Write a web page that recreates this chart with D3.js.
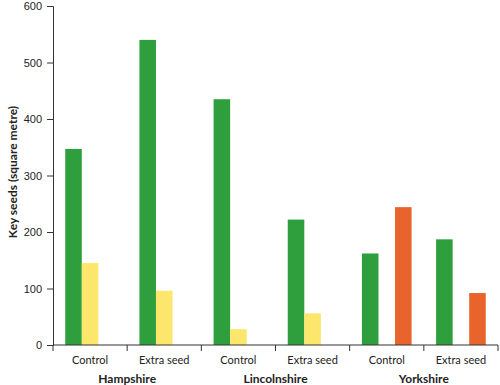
<!DOCTYPE html>
<html lang="en">
<head>
    <meta charset="UTF-8">
    <title>Key seeds</title>
    <script src="https://cdn.jsdelivr.net/npm/d3@7"></script>
    <style>
        body { margin: 0; background: #fff; }
        svg { font-family: Lato, "Open Sans", sans-serif; }
        .axis path, .axis line { stroke: #333; }
        .axis text { fill: #222; font-size: 11px; }
    </style>
</head>
<body>
    <svg id="chart" width="500" height="385"></svg>
    <script>
        // data
        const regions = ["Hampshire", "Lincolnshire", "Yorkshire"];
        const treatments = ["Control", "Extra seed"];
        const series = ["green", "yellow", "orange"];
        const greenVals = [347, 540, 435, 222, 162, 187];
        const yellowVals = [145, 96, 28, 56, null, null];
        const orangeVals = [null, null, null, null, 244, 92];
        const yTicks = [0, 100, 200, 300, 400, 500, 600];

        const colors = { green: "#2e9f3c", yellow: "#fde66c", orange: "#e8642c" };

        const svg = d3.select("#chart");
        const margin = { left: 53, right: 2, top: 6, bottom: 40 };
        const width = 500, height = 385;

        // one band per region/treatment pair
        const cats = [];
        regions.forEach(r => treatments.forEach(t => cats.push(r + "|" + t)));

        const x0 = d3.scaleBand().domain(cats)
            .range([margin.left, width - margin.right]);
        const x1 = d3.scaleBand().domain(series)
            .range([0, x0.bandwidth()])
            .paddingOuter(0.74);
        const y = d3.scaleLinear().domain([0, 600])
            .range([height - margin.bottom, margin.top]);

        const vals = { green: greenVals, yellow: yellowVals, orange: orangeVals };
        const rows = [];
        cats.forEach((c, i) => {
            series.forEach(s => {
                if (vals[s][i] != null) rows.push({ cat: c, s: s, v: vals[s][i] });
            });
        });

        svg.selectAll("rect.bar")
            .data(rows)
            .enter().append("rect")
            .attr("class", "bar")
            .attr("x", d => x0(d.cat) + x1(d.s))
            .attr("width", x1.bandwidth())
            .attr("y", d => y(d.v))
            .attr("height", d => y(0) - y(d.v))
            .attr("fill", d => colors[d.s]);

        // y axis
        svg.append("g")
            .attr("class", "axis")
            .attr("transform", `translate(${margin.left},0)`)
            .call(d3.axisLeft(y).tickValues(yTicks).tickSize(6).tickPadding(5));

        // x axis: ticks at band edges
        const edges = cats.map(c => x0(c)).concat([x0.range()[1]]);
        const xg = svg.append("g").attr("class", "axis");
        xg.append("line")
            .attr("x1", margin.left).attr("x2", width - margin.right)
            .attr("y1", y(0)).attr("y2", y(0));
        xg.selectAll("line.tick")
            .data(edges)
            .enter().append("line")
            .attr("class", "tick")
            .attr("x1", d => d).attr("x2", d => d)
            .attr("y1", y(0)).attr("y2", y(0) + 6);
        xg.selectAll("text.cat")
            .data(cats)
            .enter().append("text")
            .attr("class", "cat")
            .attr("x", d => x0(d) + x0.bandwidth() / 2)
            .attr("y", 364)
            .attr("text-anchor", "middle")
            .text(d => d.split("|")[1]);

        svg.selectAll("text.region")
            .data(regions)
            .enter().append("text")
            .attr("class", "region")
            .attr("x", d => x0(d + "|Extra seed"))
            .attr("y", 383)
            .attr("text-anchor", "middle")
            .style("font-weight", "bold")
            .style("font-size", "12px")
            .style("fill", "#222")
            .text(d => d);

        svg.append("text")
            .attr("transform", "translate(17,172) rotate(-90)")
            .attr("text-anchor", "middle")
            .style("font-weight", "bold")
            .style("font-size", "12px")
            .style("fill", "#222")
            .text("Key seeds (square metre)");
    </script>
</body>
</html>
